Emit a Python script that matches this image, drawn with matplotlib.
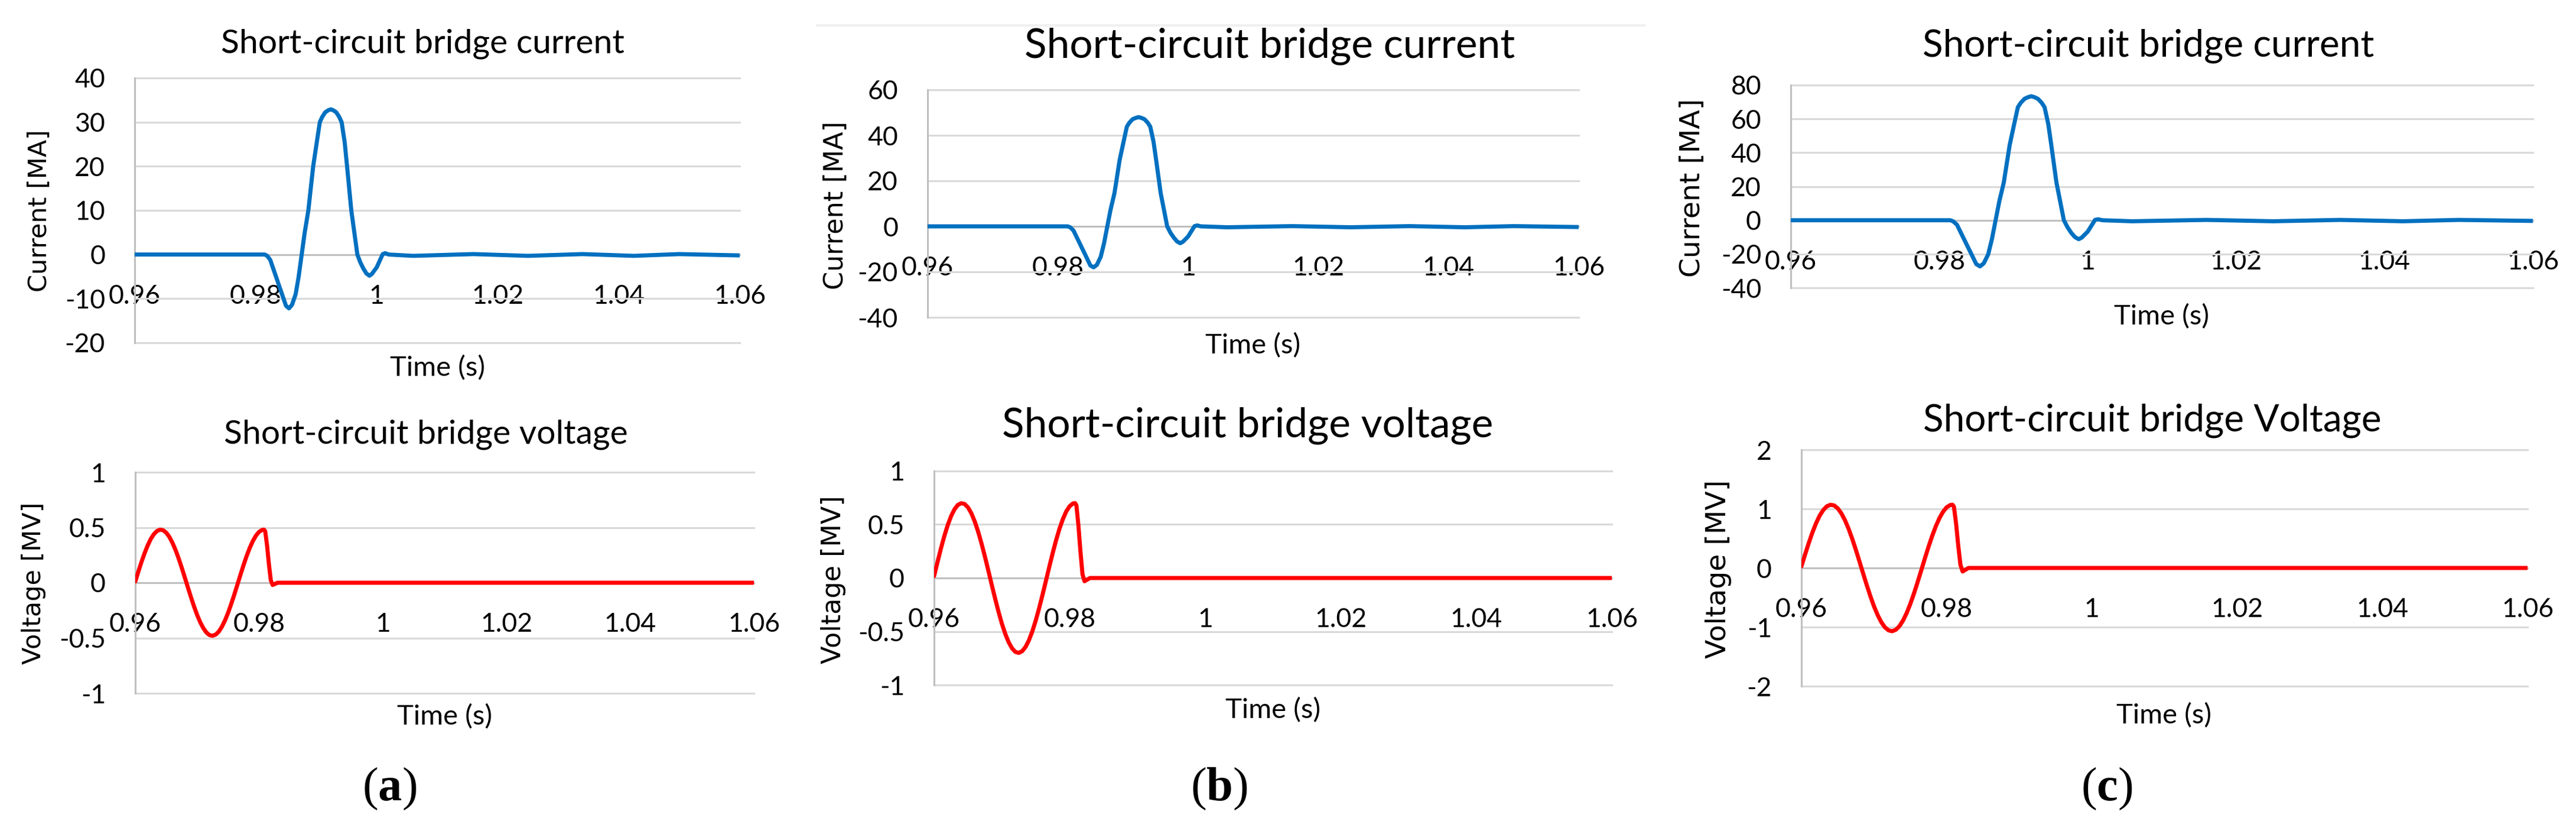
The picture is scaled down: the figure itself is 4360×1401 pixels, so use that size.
import matplotlib
matplotlib.use("Agg")
import matplotlib.pyplot as plt
from matplotlib.lines import Line2D
from matplotlib.ticker import FuncFormatter

plt.rcParams["font.family"] = ["Lato", "DejaVu Sans"]
plt.rcParams["mathtext.fontset"] = "custom"
plt.rcParams["mathtext.rm"] = "Liberation Serif"
plt.rcParams["mathtext.bf"] = "Liberation Serif:bold"

# ---- data ----
time_i = [0.9600, 0.9815, 0.9819, 0.9824, 0.9833, 0.9843, 0.9850, 0.9855, 0.9860, 0.9866,
          0.9871, 0.9876, 0.9881, 0.9887, 0.9895, 0.9901, 0.9906, 0.9910, 0.9915, 0.9920,
          0.9924, 0.9928, 0.9933, 0.9938, 0.9942, 0.9947, 0.9951, 0.9958, 0.9968, 0.9973,
          0.9978, 0.9983, 0.9988, 0.9992, 1.0000, 1.0010, 1.0014, 1.0020, 1.0060, 1.0160,
          1.0250, 1.0340, 1.0425, 1.0500, 1.0600]

current_a = [0, 0, -0.3, -1.2, -4.8, -8.8, -11.6, -12.2, -11.4, -9.0,
             -5.0, 0, 5.0, 10.0, 20.0, 25.5, 30.0, 31.2, 32.25, 32.7,
             32.9, 32.7, 32.25, 31.2, 30.0, 25.5, 20.0, 10.0, 0, -1.8,
             -3.2, -4.3, -4.8, -4.4, -2.9, 0.1, 0.3, 0, -0.3, 0.1,
             -0.3, 0.1, -0.3, 0.1, -0.2]
current_b = [0, 0, -0.4, -1.8, -7.1, -13.0, -17.2, -18.0, -16.9, -13.3,
             -7.4, 0, 7.3, 14.6, 29.2, 37.2, 43.8, 45.6, 47.1, 47.7,
             48.0, 47.7, 47.1, 45.6, 43.8, 37.2, 29.2, 14.6, 0, -2.8,
             -4.9, -6.6, -7.4, -6.8, -4.5, 0.1, 0.4, 0, -0.4, 0.1,
             -0.4, 0.1, -0.4, 0.1, -0.3]
current_c = [0, 0, -0.7, -2.7, -10.8, -19.7, -26.0, -27.3, -25.5, -20.2,
             -11.2, 0, 11.2, 22.3, 44.6, 56.9, 66.9, 69.6, 71.9, 72.9,
             73.4, 72.9, 71.9, 69.6, 66.9, 56.9, 44.6, 22.3, 0, -4.2,
             -7.5, -10.0, -11.2, -10.3, -6.8, 0.2, 0.6, 0, -0.6, 0.2,
             -0.6, 0.2, -0.6, 0.2, -0.4]

time_v = [0.9600, 0.9605, 0.9610, 0.9615, 0.9620, 0.9625, 0.9630, 0.9635, 0.9640, 0.9645,
          0.9650, 0.9655, 0.9660, 0.9665, 0.9670, 0.9675, 0.9680, 0.9685, 0.9690, 0.9695,
          0.9700, 0.9705, 0.9710, 0.9715, 0.9720, 0.9725, 0.9730, 0.9735, 0.9740, 0.9745,
          0.9750, 0.9755, 0.9760, 0.9765, 0.9770, 0.9775, 0.9780, 0.9785, 0.9790, 0.9795,
          0.9800, 0.9805, 0.9808, 0.9810, 0.9813, 0.9816, 0.9819, 0.9822, 0.9826, 0.9830,
          1.0600]

voltage_a = [0.012, 0.102, 0.188, 0.267, 0.337, 0.396, 0.439, 0.468, 0.480, 0.475,
             0.453, 0.415, 0.362, 0.297, 0.221, 0.137, 0.048, -0.042, -0.131, -0.215,
             -0.292, -0.358, -0.411, -0.451, -0.474, -0.480, -0.469, -0.442, -0.398, -0.341,
             -0.272, -0.193, -0.108, -0.018, 0.072, 0.160, 0.242, 0.315, 0.377, 0.426,
             0.460, 0.478, 0.480, 0.466, 0.336, 0.168, 0.024, -0.020, -0.010, 0,
             0]
voltage_b = [0.018, 0.148, 0.274, 0.390, 0.492, 0.577, 0.641, 0.683, 0.699, 0.692,
             0.660, 0.605, 0.528, 0.433, 0.322, 0.200, 0.070, -0.062, -0.191, -0.314,
             -0.426, -0.522, -0.600, -0.657, -0.691, -0.700, -0.684, -0.644, -0.581, -0.498,
             -0.397, -0.282, -0.157, -0.027, 0.105, 0.233, 0.353, 0.460, 0.550, 0.622,
             0.671, 0.697, 0.700, 0.679, 0.490, 0.245, 0.035, -0.030, -0.015, 0,
             0]
voltage_c = [0.027, 0.227, 0.418, 0.596, 0.752, 0.882, 0.979, 1.043, 1.069, 1.058,
             1.009, 0.924, 0.807, 0.661, 0.492, 0.305, 0.107, -0.094, -0.292, -0.479,
             -0.651, -0.798, -0.917, -1.005, -1.056, -1.070, -1.045, -0.984, -0.888, -0.761,
             -0.607, -0.431, -0.240, -0.041, 0.161, 0.356, 0.539, 0.703, 0.841, 0.950,
             1.026, 1.065, 1.070, 1.038, 0.749, 0.375, 0.054, -0.060, -0.030, 0,
             0]

x_ticks = [0.96, 0.98, 1.0, 1.02, 1.04, 1.06]
yticks_ia = [-20, -10, 0, 10, 20, 30, 40]
yticks_ib = [-40, -20, 0, 20, 40, 60]
yticks_ic = [-40, -20, 0, 20, 40, 60, 80]
yticks_vab = [-1, -0.5, 0, 0.5, 1]
yticks_vc = [-2, -1, 0, 1, 2]

title_i = "Short-circuit bridge current"
title_v = "Short-circuit bridge voltage"
title_vc = "Short-circuit bridge Voltage"

W, H = 4360, 1401
fig = plt.figure(figsize=(W / 100, H / 100), dpi=100)

BLUE = "#0070C0"
RED = "#FF0000"
fmt = FuncFormatter(lambda v, p: f"{v:g}")


def px_text(x, y, s, **kw):
    fig.text(x / W, 1 - y / H, s, ha="center", va="center", **kw)


def panel(box, t, y, color, ticks, title, title_pos, title_size,
          ylabel, ylabel_pos, ylabel_size, xlabel_pos):
    l, top, r, b = box
    ax = fig.add_axes([l / W, 1 - b / H, (r - l) / W, (b - top) / H])
    ax.plot(t, y, color=color, lw=5, solid_joinstyle="round",
            solid_capstyle="round", zorder=3)
    ax.set_xlim(0.96, 1.06)
    ax.set_ylim(ticks[0], ticks[-1])
    ax.set_xticks(x_ticks)
    ax.set_yticks(ticks)
    ax.xaxis.set_major_formatter(fmt)
    ax.yaxis.set_major_formatter(fmt)
    ax.grid(axis="y", color="#d9d9d9", lw=2.2)
    for gl in ax.get_ygridlines():
        gl.set_clip_on(False)
    ax.set_axisbelow(True)
    for s in ["top", "right"]:
        ax.spines[s].set_visible(False)
    ax.spines["left"].set_color("#bfbfbf")
    ax.spines["left"].set_linewidth(2.2)
    ax.spines["bottom"].set_position(("data", 0))
    ax.spines["bottom"].set_color("#bfbfbf")
    ax.spines["bottom"].set_linewidth(2.2)
    ax.tick_params(axis="both", length=0, labelsize=32)
    ax.tick_params(axis="x", pad=36)
    ax.tick_params(axis="y", pad=36)
    px_text(*title_pos, title, fontsize=title_size)
    px_text(*ylabel_pos, ylabel, fontsize=ylabel_size, rotation=90,
            family="DejaVu Sans")
    px_text(*xlabel_pos, "Time (s)", fontsize=34)
    return ax


panel((228, 132, 1252, 580), time_i, current_a, BLUE, yticks_ia, title_i,
      (715, 74), 41, "Current [MA]", (67, 357), 31, (740, 623))
panel((229, 799, 1276, 1173), time_v, voltage_a, RED, yticks_vab, title_v,
      (721, 735), 41, "Voltage [MV]", (57, 987), 31, (752, 1213))
panel((1570, 152, 2672, 537), time_i, current_b, BLUE, yticks_ib, title_i,
      (2149, 78), 50, "Current [MA]", (1414, 347), 32, (2121, 585))
panel((1581, 797, 2728, 1159), time_v, voltage_b, RED, yticks_vab, title_v,
      (2112, 720), 50, "Voltage [MV]", (1411, 981), 32, (2154, 1202))
panel((3031, 144, 4287, 487), time_i, current_c, BLUE, yticks_ic, title_i,
      (3636, 78), 46, "Current [MA]", (2864, 318), 34, (3659, 536))
panel((3049, 761, 4278, 1161), time_v, voltage_c, RED, yticks_vc, title_vc,
      (3643, 712), 46, "Voltage [MV]", (2909, 963), 34, (3662, 1211))

# faint frame line above the middle panel
fig.add_artist(Line2D([1383 / W, 2783 / W], [1 - 43 / H, 1 - 43 / H],
                      color="#f0f0f0", lw=3))

for lab, x in [("a", 659), ("b", 2063), ("c", 3566)]:
    px_text(x, 1335, rf"($\mathbf{{{lab}}}$)", fontsize=58,
            family="Liberation Serif")

fig.savefig("out.png", dpi=100, facecolor="white")
